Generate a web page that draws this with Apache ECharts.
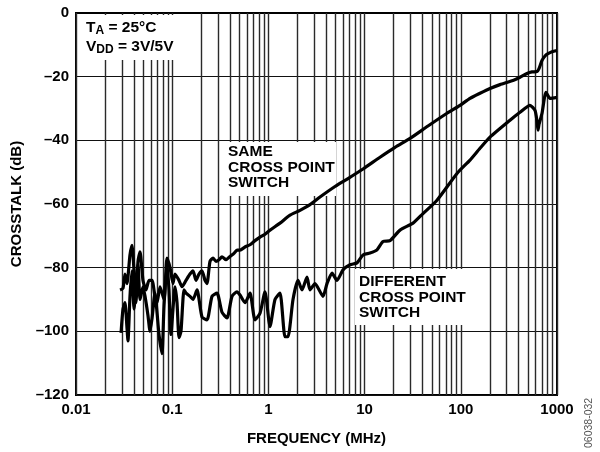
<!DOCTYPE html>
<html><head><meta charset="utf-8">
<script src="https://cdn.jsdelivr.net/npm/echarts@6/dist/echarts.min.js"></script>
<style>html,body{margin:0;padding:0;background:#fff}#c{width:600px;height:452px}</style>
</head><body><div id="c"></div>
<script>
// Tick labels
const xTickValues = [0.01, 0.1, 1, 10, 100, 1000];
const xTickLabels = ['0.01', '0.1', '1', '10', '100', '1000'];
const yTickLabels = {'0':'0','-20':'–20','-40':'–40','-60':'–60','-80':'–80','-100':'–100','-120':'–120'};
const decades = [0.01, 0.1, 1, 10, 100];
const minorSteps = [1, 2, 3, 4, 5, 6, 7, 8, 9];

// SAME CROSS POINT SWITCH (frequency MHz, crosstalk dB)
const sameFreq = [0.0287,0.0308,0.0323,0.0339,0.0364,0.0382,0.0401,0.0420,0.0441,0.0463,0.0497,0.0534,0.0574,0.0617,0.0662,0.0695,0.0747,0.0822,0.0883,0.0949,0.1019,0.1069,0.1177,0.1264,0.1391,0.1531,0.1645,0.1768,0.1899,0.2040,0.2193,0.2300,0.2471,0.2656,0.2853,0.3065,0.3293,0.3624,0.3989,0.4389,0.4716,0.5068,0.5713,0.6439,0.7257,0.8180,0.9219,1.039,1.320,1.677,2.130,2.706,3.439,4.924,6.721,9.63,14.46,20.70,29.65,45.60,71.86,98.1,124.6,158.3,201.2,255.6,348.8,412.5,487.6,549.7,619.6,650.0,698.5,750.5,806.1,887.2,1000];
const sameDb = [-87,-86.5,-82,-85,-76,-73,-81,-91,-78,-75,-84,-87,-84,-84,-89,-91,-86,-90,-77,-80,-85,-82,-84,-86,-84,-82,-81,-84,-82,-81,-84,-85,-78,-77,-78,-77.5,-76.6,-77.5,-76.5,-75.5,-74.5,-74.5,-73.5,-72.8,-71.5,-70.4,-69.5,-68.2,-66,-63.5,-62,-60.2,-57.8,-54.5,-52,-49,-45.3,-42.2,-39.4,-35.5,-31.5,-29,-26.8,-25.2,-23.7,-22.5,-21.2,-20.2,-19,-18.5,-18.4,-17.5,-14.9,-13.5,-12.8,-12.2,-11.8];

// DIFFERENT CROSS POINT SWITCH
const diffFreq = [0.0294,0.0308,0.0323,0.0339,0.0347,0.0364,0.0382,0.0401,0.0420,0.0441,0.0463,0.0497,0.0522,0.0560,0.0588,0.0617,0.0662,0.0695,0.0729,0.0783,0.0822,0.0883,0.0926,0.0972,0.1019,0.1069,0.1122,0.1177,0.1234,0.1326,0.1391,0.1531,0.1645,0.1811,0.2040,0.2300,0.2592,0.2922,0.3293,0.3711,0.4183,0.4716,0.5068,0.5713,0.6439,0.7257,0.8180,0.9219,1.039,1.171,1.320,1.488,1.598,1.802,2.031,2.235,2.519,2.706,3.050,3.694,4.066,4.583,5.166,5.964,7.05,8.34,9.63,11.38,13.45,15.54,18.37,23.34,31.86,40.47,56.56,91.30,124.6,158.3,201.2,324.7,412.5,524.0,590.6,619.6,634.6,650.0,698.5,768.8,845.7,1000];
const diffDb = [-100.5,-93,-91,-99,-103,-89,-81,-93,-86,-79,-90,-86,-89,-95,-100,-96,-88,-94,-101,-107,-92,-79,-87,-101,-93,-86,-91,-102,-100,-87,-88,-89,-90,-87,-95.5,-96.4,-89,-88,-94,-95.8,-89,-87.6,-88.6,-91,-88,-96.4,-94.3,-87.6,-98.5,-90,-88,-101.7,-101.7,-90,-84,-87,-83,-87,-85,-89,-85,-81.7,-84,-80.7,-79.1,-78.5,-76,-75.4,-74.4,-71.8,-71.5,-68.2,-66,-63,-58.8,-50.4,-46.2,-42.5,-39,-33.7,-31.2,-29,-30.6,-34,-36.8,-35,-31.5,-24.9,-26.8,-26.5];

const gridX = [];
decades.forEach(d => minorSteps.forEach(k => gridX.push(+(d * k).toPrecision(3))));
gridX.push(1000);

const chart = echarts.init(document.getElementById('c'), null, {renderer: 'canvas'});
const FONT = '"Liberation Sans", Arial, sans-serif';
const zip = (a, b) => a.map((v, i) => [v, b[i]]);
const subRich = {
  b: {fontFamily: FONT, fontWeight: 'bold', fontSize: 15.5, lineHeight: 18, fill: '#000'},
  s: {fontFamily: FONT, fontWeight: 'bold', fontSize: 12, lineHeight: 12, verticalAlign: 'bottom', fill: '#000'}
};

chart.setOption({
  animation: false,
  backgroundColor: '#fff',
  grid: {left: 76, top: 13, width: 481, height: 382, show: true, borderColor: '#000', borderWidth: 2, backgroundColor: 'transparent'},
  xAxis: {
    type: 'log', logBase: 10, min: 0.01, max: 1000,
    name: 'FREQUENCY (MHz)', nameLocation: 'middle', nameGap: 36,
    nameTextStyle: {fontFamily: FONT, fontWeight: 'bold', fontSize: 15, color: '#000'},
    axisLine: {show: true, lineStyle: {color: '#000', width: 2}},
    axisTick: {show: false},
    splitLine: {show: false},
    axisLabel: {
      fontFamily: FONT, fontWeight: 'bold', fontSize: 15, color: '#000', margin: 7,
      formatter: v => { const i = xTickValues.findIndex(t => Math.abs(t - v) / t < 1e-6); return i >= 0 ? xTickLabels[i] : ''; }
    }
  },
  yAxis: {
    type: 'value', min: -120, max: 0, interval: 20,
    name: 'CROSSTALK (dB)', nameLocation: 'middle', nameGap: 50, nameRotate: 90,
    nameTextStyle: {fontFamily: FONT, fontWeight: 'bold', fontSize: 15, color: '#000'},
    axisLine: {show: true, lineStyle: {color: '#000', width: 2}},
    axisTick: {show: false},
    splitLine: {show: true, lineStyle: {color: '#111', width: 1.2}},
    axisLabel: {
      fontFamily: FONT, fontWeight: 'bold', fontSize: 15, color: '#000', margin: 7,
      formatter: v => yTickLabels[String(v)] || ''
    }
  },
  series: [
    {
      type: 'line', data: [], z: 1, silent: true,
      markLine: {
        z: 1, silent: true, symbol: 'none', animation: false,
        label: {show: false},
        lineStyle: {color: '#2a2a2a', width: 1.4, type: 'solid'},
        emphasis: {disabled: true},
        data: gridX.map(v => ({xAxis: v}))
      }
    },
    {
      name: 'SAME', type: 'line', z: 6, data: zip(sameFreq, sameDb),
      showSymbol: false, smooth: 0.2, lineStyle: {color: '#000', width: 3.2}
    },
    {
      name: 'DIFFERENT', type: 'line', z: 6, data: zip(diffFreq, diffDb),
      showSymbol: false, smooth: 0.2, lineStyle: {color: '#000', width: 3.2}
    }
  ],
  graphic: [
    {type: 'rect', z: 3, shape: {x: 80, y: 15, width: 100, height: 45}, style: {fill: '#fff'}},
    {type: 'rect', z: 3, shape: {x: 222, y: 142, width: 114, height: 54}, style: {fill: '#fff'}},
    {type: 'rect', z: 3, shape: {x: 355, y: 269, width: 114, height: 56}, style: {fill: '#fff'}},
    {type: 'text', z: 7, x: 86, y: 19, style: {text: '{b|T}{s|A}{b| = 25°C}', rich: subRich}},
    {type: 'text', z: 7, x: 86, y: 38, style: {text: '{b|V}{s|DD}{b| = 3V/5V}', rich: subRich}},
    {type: 'text', z: 7, x: 228, y: 144, style: {
      text: 'SAME\nCROSS POINT\nSWITCH', font: 'bold 15.5px ' + FONT, lineHeight: 15.5, fill: '#000'
    }},
    {type: 'text', z: 7, x: 359, y: 274, style: {
      text: 'DIFFERENT\nCROSS POINT\nSWITCH', font: 'bold 15.5px ' + FONT, lineHeight: 15.5, fill: '#000'
    }},
    {type: 'text', z: 7, x: 584, y: 448, rotation: Math.PI / 2, style: {
      text: '06038-032', font: '10.5px ' + FONT, fill: '#555'
    }}
  ]
});
</script>
</body></html>
